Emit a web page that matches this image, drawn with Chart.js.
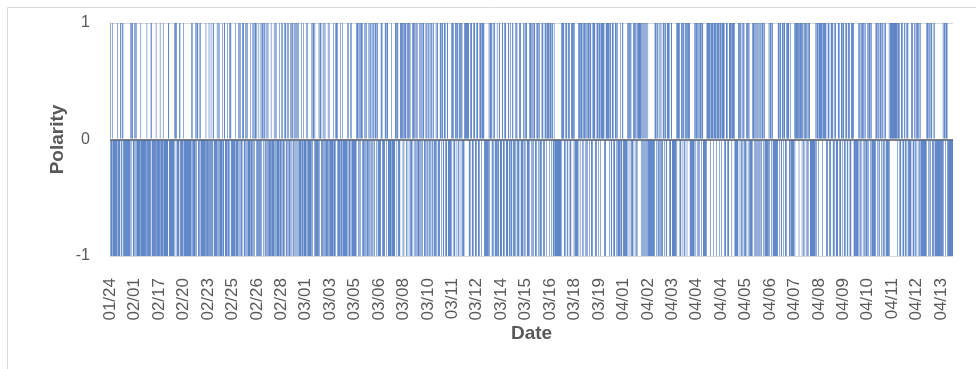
<!DOCTYPE html>
<html>
<head>
<meta charset="utf-8">
<title>Polarity by date</title>
<script src="https://cdn.jsdelivr.net/npm/chart.js@4.4.1/dist/chart.umd.min.js"></script>
<style>
  body { margin: 0; background: #fff; }
  canvas { display: block; }
</style>
</head>
<body>
<canvas id="polarityChart" width="976" height="369"></canvas>
<script>
// one tick label every labelStep rows
const dateTicks = [
  "01/24", "02/01", "02/17", "02/20", "02/23", "02/25", "02/26", "02/28", "03/01",
  "03/03", "03/05", "03/06", "03/08", "03/10", "03/11", "03/12", "03/14", "03/15",
  "03/16", "03/18", "03/19", "04/01", "04/02", "04/03", "04/04", "04/04", "04/05",
  "04/06", "04/07", "04/08", "04/09", "04/10", "04/11", "04/12", "04/13"
];
const labelStep = 48;
const yTicks = [-1, 0, 1];

// polarity per row (one line per tick interval)
const polarity = [
  1,-1, -1,-1, 1,-1, -1,-1, -1,-1, -1,-1, -1,-1, 1,-1, -1,-1, -1,-1, 1,1, -1,-1, 1,1, -1,-1, -1,-1, -1,-1, -1,-1, -1,-1, -1,-1, -1,-1, 1,-1, 1,1, 1,-1, -1,-1, // 01/24
  1,-1, 1,1, -1,-1, -1,-1, -1,-1, -1,-1, 1,-1, -1,-1, -1,-1, -1,-1, -1,-1, -1,-1, 1,-1, -1,-1, -1,-1, -1,-1, 1,1, -1,-1, -1,-1, -1,-1, -1,-1, 1,-1, -1,-1, -1,-1, // 02/01
  -1,-1, 1,-1, -1,-1, -1,-1, 1,-1, -1,-1, -1,-1, -1,-1, -1,-1, 1,1, -1,-1, -1,-1, -1,-1, -1,-1, -1,-1, 1,-1, 1,1, 1,-1, -1,-1, -1,-1, 1,1, -1,-1, -1,-1, -1,-1, // 02/17
  1,-1, -1,-1, -1,-1, -1,-1, -1,-1, -1,-1, -1,-1, -1,-1, 1,1, -1,-1, -1,-1, -1,-1, 1,-1, 1,1, 1,-1, -1,-1, 1,1, -1,-1, -1,-1, -1,-1, -1,-1, -1,-1, 1,-1, -1,-1, // 02/20
  -1,-1, 1,-1, -1,-1, 1,-1, -1,-1, 1,1, -1,-1, -1,-1, -1,-1, 1,-1, 1,-1, 1,-1, -1,-1, -1,-1, 1,-1, -1,-1, 1,1, -1,-1, -1,-1, 1,-1, -1,-1, 1,-1, 1,1, -1,-1, // 02/23
  -1,-1, -1,-1, -1,-1, 1,-1, -1,-1, -1,-1, 1,-1, 1,-1, 1,-1, -1,-1, 1,1, 1,-1, -1,-1, 1,-1, 1,-1, 1,-1, -1,-1, -1,-1, 1,-1, -1,-1, 1,-1, 1,-1, 1,1, 1,-1, // 02/25
  1,-1, -1,-1, 1,-1, -1,-1, 1,-1, 1,1, 1,-1, 1,1, -1,-1, 1,-1, 1,-1, 1,-1, -1,-1, -1,-1, 1,-1, -1,-1, -1,-1, 1,-1, 1,-1, 1,-1, -1,-1, -1,-1, 1,-1, -1,-1, // 02/26
  1,-1, 1,-1, -1,-1, 1,-1, 1,1, -1,-1, 1,-1, 1,-1, -1,-1, 1,-1, 1,-1, 1,1, -1,-1, 1,-1, 1,-1, 1,-1, 1,-1, 1,-1, -1,-1, -1,-1, 1,-1, -1,-1, 1,-1, -1,-1, // 02/28
  -1,-1, 1,-1, 1,-1, -1,-1, -1,-1, -1,-1, 1,-1, 1,1, 1,-1, 1,-1, -1,-1, -1,-1, -1,-1, 1,-1, 1,1, 1,-1, -1,-1, 1,-1, 1,-1, 1,-1, -1,-1, -1,-1, 1,-1, 1,-1, // 03/01
  -1,-1, -1,-1, -1,-1, 1,-1, -1,-1, 1,-1, 1,1, 1,-1, -1,-1, -1,-1, 1,-1, -1,-1, 1,-1, -1,-1, -1,-1, -1,-1, -1,-1, 1,-1, 1,-1, -1,-1, 1,-1, 1,-1, -1,-1, -1,-1, // 03/03
  -1,-1, -1,-1, 1,1, 1,1, -1,-1, 1,-1, 1,1, 1,1, -1,-1, -1,-1, 1,-1, 1,1, -1,-1, -1,-1, 1,-1, 1,1, -1,-1, 1,-1, 1,1, -1,-1, 1,1, 1,-1, 1,1, -1,-1, // 03/05
  -1,-1, -1,-1, 1,1, 1,-1, -1,-1, -1,-1, 1,1, 1,-1, 1,1, -1,-1, -1,-1, -1,-1, 1,-1, -1,-1, -1,-1, -1,-1, 1,1, 1,-1, 1,1, -1,-1, -1,-1, 1,1, 1,1, 1,-1, // 03/06
  1,-1, 1,1, 1,1, -1,-1, 1,1, 1,-1, 1,1, -1,-1, -1,-1, 1,1, 1,-1, 1,1, -1,-1, 1,1, -1,-1, -1,-1, 1,-1, 1,1, -1,-1, 1,1, 1,-1, -1,-1, 1,1, -1,-1, // 03/08
  1,1, -1,-1, 1,-1, 1,1, -1,-1, 1,1, -1,-1, -1,-1, 1,-1, 1,1, -1,-1, -1,-1, 1,1, 1,-1, 1,1, -1,-1, 1,1, 1,-1, -1,-1, 1,1, -1,-1, -1,-1, -1,-1, 1,-1, // 03/10
  1,1, 1,-1, -1,-1, 1,1, 1,-1, 1,1, -1,-1, 1,1, 1,-1, 1,1, -1,-1, -1,-1, 1,1, 1,1, 1,1, 1,1, 1,-1, -1,-1, 1,1, 1,-1, -1,-1, 1,1, 1,-1, -1,-1, // 03/11
  1,1, 1,-1, -1,-1, 1,1, 1,-1, 1,1, 1,1, 1,-1, -1,-1, -1,-1, -1,-1, -1,-1, 1,-1, 1,1, 1,1, -1,-1, 1,-1, 1,1, -1,-1, -1,-1, 1,-1, -1,-1, 1,1, -1,-1, // 03/12
  -1,-1, 1,1, -1,-1, 1,-1, 1,1, -1,-1, -1,-1, 1,1, -1,-1, 1,-1, -1,-1, 1,1, -1,-1, -1,-1, 1,-1, 1,1, -1,-1, -1,-1, 1,1, 1,-1, -1,-1, -1,-1, 1,1, -1,-1, // 03/14
  1,1, 1,-1, -1,-1, -1,-1, 1,1, 1,-1, 1,1, -1,-1, 1,1, 1,-1, -1,-1, 1,1, 1,-1, 1,1, -1,-1, -1,-1, 1,1, 1,-1, -1,-1, 1,1, 1,-1, 1,1, 1,1, 1,-1, // 03/15
  1,1, 1,-1, 1,1, -1,-1, 1,-1, -1,-1, -1,-1, -1,-1, -1,-1, -1,-1, -1,-1, 1,-1, 1,1, 1,1, -1,-1, 1,-1, 1,1, -1,-1, 1,1, 1,-1, -1,-1, 1,1, 1,1, 1,-1, // 03/16
  1,-1, -1,-1, -1,-1, -1,-1, 1,1, 1,-1, 1,1, 1,1, -1,-1, 1,1, 1,-1, 1,1, -1,-1, 1,1, 1,-1, 1,1, 1,-1, -1,-1, 1,1, 1,1, 1,-1, -1,-1, 1,1, 1,-1, // 03/18
  1,1, 1,-1, 1,1, 1,1, 1,1, 1,-1, -1,-1, 1,1, 1,1, 1,1, 1,-1, 1,1, -1,-1, 1,1, 1,-1, -1,-1, 1,1, 1,-1, 1,-1, -1,-1, -1,-1, 1,-1, -1,-1, 1,1, // 03/19
  -1,-1, -1,-1, -1,-1, -1,-1, 1,-1, 1,1, 1,-1, 1,1, -1,-1, -1,-1, 1,1, 1,-1, 1,1, -1,-1, 1,1, 1,1, 1,1, 1,-1, 1,1, -1,-1, 1,-1, 1,1, -1,-1, 1,-1, // 04/01
  1,-1, -1,-1, -1,-1, -1,-1, -1,-1, -1,-1, -1,-1, 1,1, 1,-1, 1,1, -1,-1, 1,-1, 1,-1, 1,-1, -1,-1, 1,1, 1,-1, 1,1, -1,-1, 1,1, 1,1, 1,-1, -1,-1, 1,1, // 04/02
  -1,-1, -1,-1, -1,-1, -1,-1, 1,-1, 1,1, 1,1, 1,-1, -1,-1, 1,1, 1,-1, 1,1, -1,-1, 1,1, 1,-1, 1,1, 1,1, 1,-1, -1,-1, -1,-1, -1,-1, -1,-1, 1,-1, 1,1, // 04/03
  1,-1, 1,1, -1,-1, 1,1, 1,-1, 1,1, 1,-1, -1,-1, -1,-1, -1,-1, 1,1, 1,1, 1,1, 1,-1, 1,1, 1,1, 1,-1, 1,1, 1,1, 1,-1, 1,1, 1,1, 1,-1, 1,1, // 04/04
  1,-1, 1,1, 1,1, 1,-1, -1,-1, 1,1, 1,-1, -1,-1, 1,1, 1,1, 1,-1, 1,1, 1,1, 1,-1, -1,-1, -1,-1, -1,-1, 1,1, 1,-1, 1,1, -1,-1, 1,-1, 1,1, -1,-1, // 04/04
  -1,-1, 1,1, 1,-1, 1,1, -1,-1, -1,-1, -1,-1, 1,1, 1,-1, 1,1, -1,-1, 1,1, -1,-1, 1,-1, 1,1, -1,-1, 1,1, 1,-1, 1,1, -1,-1, -1,-1, -1,-1, -1,-1, 1,-1, // 04/05
  1,1, 1,-1, 1,1, -1,-1, -1,-1, -1,-1, -1,-1, -1,-1, 1,1, 1,-1, 1,1, -1,-1, 1,1, 1,-1, 1,1, -1,-1, 1,-1, 1,1, 1,1, -1,-1, 1,-1, -1,-1, -1,-1, -1,-1, // 04/06
  1,-1, 1,1, 1,1, 1,1, 1,-1, 1,1, 1,1, 1,-1, 1,1, -1,-1, 1,1, 1,-1, 1,1, -1,-1, 1,1, 1,-1, -1,-1, -1,-1, -1,-1, -1,-1, -1,-1, 1,-1, 1,1, 1,-1, // 04/07
  1,1, 1,1, 1,1, 1,-1, 1,1, 1,1, 1,1, 1,-1, -1,-1, 1,1, 1,-1, -1,-1, 1,1, 1,1, -1,-1, 1,-1, 1,1, -1,-1, -1,-1, 1,1, 1,-1, -1,-1, 1,1, 1,-1, // 04/08
  1,1, -1,-1, 1,-1, 1,1, -1,-1, 1,1, 1,-1, -1,-1, 1,1, 1,1, 1,-1, -1,-1, -1,-1, -1,-1, -1,-1, 1,-1, 1,1, -1,-1, 1,1, 1,-1, 1,1, -1,-1, 1,-1, -1,-1, // 04/09
  1,-1, 1,1, 1,-1, 1,1, -1,-1, -1,-1, -1,-1, -1,-1, 1,1, 1,-1, 1,1, -1,-1, 1,1, 1,-1, 1,1, -1,-1, 1,-1, 1,1, -1,-1, -1,-1, -1,-1, 1,-1, 1,1, 1,1, // 04/10
  1,1, 1,1, 1,1, 1,1, 1,1, 1,-1, 1,1, 1,-1, -1,-1, 1,1, 1,-1, -1,-1, 1,1, -1,-1, 1,-1, 1,1, -1,-1, -1,-1, -1,-1, 1,1, 1,-1, -1,-1, 1,1, -1,-1, // 04/11
  1,1, 1,-1, 1,1, -1,-1, 1,-1, -1,-1, -1,-1, -1,-1, -1,-1, -1,-1, 1,1, 1,-1, 1,1, -1,-1, 1,1, 1,-1, -1,-1, 1,1, -1,-1, -1,-1, -1,-1, -1,-1, -1,-1, -1,-1, // 04/12
  -1,-1, -1,-1, 1,-1, 1,1, 1,-1, 1,1, 1,-1, -1,-1, -1,-1, -1,-1, -1,-1, -1,-1 // 04/13
];

const categories = polarity.map((v, i) => (i % labelStep === 0 ? dateTicks[i / labelStep] : ""));

const fontFamily = "'Liberation Sans', Arial, sans-serif";
const textColor = "#595959";

// light chart frame like the spreadsheet export
const framePlugin = {
  id: "frame",
  beforeDraw(chart) {
    const ctx = chart.ctx;
    ctx.save();
    ctx.fillStyle = "#ffffff";
    ctx.fillRect(0, 0, chart.width, chart.height);
    ctx.strokeStyle = "#d9d9d9";
    ctx.lineWidth = 1;
    ctx.beginPath();
    ctx.moveTo(7.5, chart.height);
    ctx.lineTo(7.5, 7.5);
    ctx.lineTo(chart.width, 7.5);
    ctx.stroke();
    ctx.restore();
  },
};

new Chart(document.getElementById("polarityChart"), {
  type: "bar",
  data: {
    labels: categories,
    datasets: [
      {
        label: "Polarity",
        data: polarity,
        backgroundColor: "#2a5db5",
        borderWidth: 0,
        inflateAmount: 0,
        barPercentage: 1,
        categoryPercentage: 1,
      },
    ],
  },
  options: {
    responsive: false,
    animation: false,
    events: [],
    layout: { padding: { top: 23, right: 23, bottom: 0, left: 0 } },
    plugins: {
      legend: { display: false },
      tooltip: { enabled: false },
    },
    scales: {
      x: {
        afterFit: (scale) => {
          scale.height = 113;
          scale.paddingLeft = 0;
          scale.paddingRight = 0;
        },
        grid: { display: false },
        border: { display: false },
        ticks: {
          autoSkip: false,
          minRotation: 90,
          maxRotation: 90,
          padding: 14,
          color: textColor,
          font: { family: fontFamily, size: 17 },
          callback: (value, index) => (categories[index] ? categories[index] : null),
        },
        title: {
          display: true,
          text: "Date",
          color: textColor,
          font: { family: fontFamily, size: 19, weight: "bold" },
          padding: { top: 0, bottom: 24 },
        },
      },
      y: {
        min: yTicks[0],
        max: yTicks[yTicks.length - 1],
        z: 1,
        afterFit: (scale) => {
          scale.width = 110;
          scale.paddingTop = 0;
          scale.paddingBottom = 0;
        },
        afterBuildTicks: (scale) => { scale.ticks = yTicks.map((v) => ({ value: v })); },
        border: { display: false },
        grid: {
          drawTicks: false,
          color: (c) => (c.tick && c.tick.value === 0 ? "#7f7f7f" : "#d9d9d9"),
          lineWidth: (c) => (c.tick && c.tick.value === 0 ? 2 : 1),
        },
        ticks: {
          padding: 20,
          color: textColor,
          font: { family: fontFamily, size: 16 },
        },
        title: {
          display: true,
          text: "Polarity",
          color: textColor,
          font: { family: fontFamily, size: 19, weight: "bold" },
          padding: { top: 46, bottom: 0 },
        },
      },
    },
  },
  plugins: [framePlugin],
});
</script>
</body>
</html>
